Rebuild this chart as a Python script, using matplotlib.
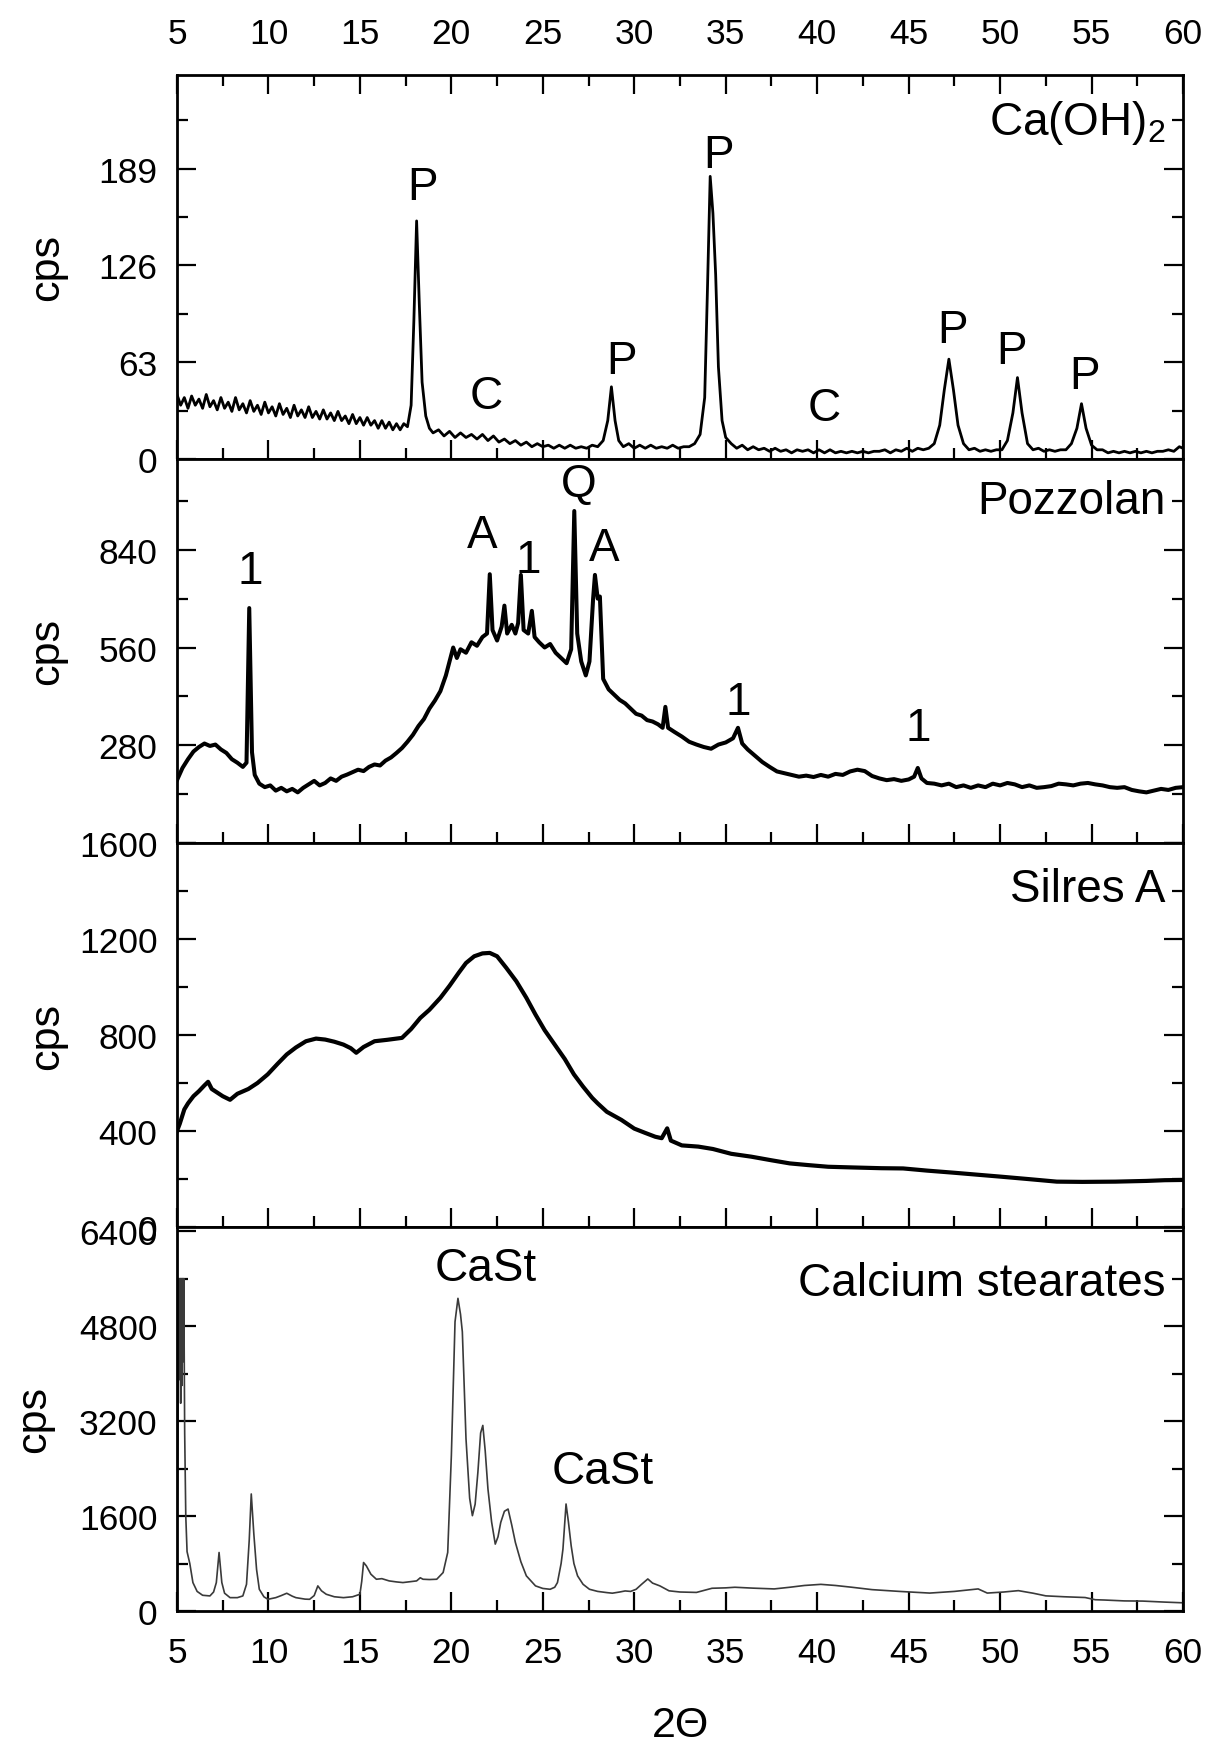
import matplotlib
matplotlib.use("Agg")
import matplotlib.pyplot as plt
from matplotlib.ticker import MultipleLocator, FixedLocator

plt.rcParams['font.family'] = ['Liberation Sans', 'DejaVu Sans']
plt.rcParams['mathtext.fontset'] = 'custom'
plt.rcParams['mathtext.rm'] = 'Liberation Sans'

# ---------------- data ----------------
# Panel 1: Ca(OH)2
caoh_x = [5.0, 5.2, 5.4, 5.6, 5.8, 6.0, 6.2, 6.4, 6.6, 6.8, 7.0, 7.2, 7.4, 7.6, 7.8, 8.0, 8.2, 8.4, 8.6, 8.8,
          9.0, 9.2, 9.4, 9.6, 9.8, 10.0, 10.2, 10.4, 10.6, 10.8, 11.0, 11.2, 11.4, 11.6, 11.8, 12.0, 12.2, 12.4,
          12.6, 12.8, 13.0, 13.2, 13.4, 13.6, 13.8, 14.0, 14.2, 14.4, 14.6, 14.8, 15.0, 15.2, 15.4, 15.6, 15.8,
          16.0, 16.2, 16.4, 16.6, 16.8, 17.0, 17.2, 17.4, 17.6,
          17.8, 17.95, 18.1, 18.25, 18.4, 18.6, 18.8,
          19.0, 19.3, 19.6, 19.9, 20.2, 20.5, 20.8, 21.1, 21.4, 21.7, 22.0, 22.3, 22.6, 22.9, 23.2, 23.5, 23.8,
          24.1, 24.4, 24.7, 25.0, 25.3, 25.6, 25.9, 26.2, 26.5, 26.8, 27.1, 27.4, 27.7, 28.0, 28.3,
          28.55, 28.75, 28.95, 29.15, 29.4, 29.7, 30.0, 30.3, 30.6, 30.9, 31.2, 31.5, 31.8, 32.1, 32.4, 32.7,
          33.0, 33.3, 33.6, 33.85, 34.0, 34.15, 34.3, 34.45, 34.6, 34.8, 35.0, 35.3, 35.6, 35.9, 36.2, 36.5,
          36.8, 37.1, 37.4, 37.7, 38.0, 38.3, 38.6, 38.9, 39.2, 39.5, 39.8, 40.1, 40.4, 40.7, 41.0, 41.3, 41.6,
          41.9, 42.2, 42.5, 42.8, 43.1, 43.4, 43.7, 44.0, 44.3, 44.6, 44.9, 45.2, 45.5, 45.8, 46.1, 46.4,
          46.7, 46.95, 47.2, 47.45, 47.7, 48.0, 48.3, 48.6, 48.9, 49.2, 49.5, 49.8, 50.1, 50.4, 50.7, 50.95,
          51.2, 51.5, 51.8, 52.1, 52.4, 52.7, 53.0, 53.3, 53.6, 53.9, 54.2, 54.45, 54.7, 55.0, 55.3, 55.6,
          55.9, 56.2, 56.5, 56.8, 57.1, 57.4, 57.7, 58.0, 58.3, 58.6, 58.9, 59.2, 59.5, 59.8, 60.0]
caoh_y = [42, 35, 40, 33, 41, 35, 39, 33, 42, 34, 38, 32, 40, 33, 37, 31, 40, 32, 36, 30,
          38, 31, 35, 29, 37, 30, 34, 28, 36, 29, 33, 27, 35, 28, 32, 27, 34, 27,
          31, 26, 32, 26, 30, 25, 31, 25, 28, 23, 29, 23, 27, 22, 27, 22, 25,
          20, 25, 20, 24, 19, 23, 19, 23, 21,
          35, 90, 155, 100, 50, 28, 20,
          17, 19, 15, 18, 14, 17, 14, 16, 13, 16, 12, 15, 11, 13, 10, 12, 9,
          11, 8, 10, 8, 9, 7, 9, 7, 9, 7, 8, 7, 9, 8, 12,
          25, 47, 25, 12, 8, 10, 7, 9, 7, 9, 7, 8, 7, 9, 7, 8,
          8, 10, 16, 40, 110, 184, 160, 120, 60, 25, 14, 10, 7, 9, 6, 8,
          6, 7, 5, 7, 5, 6, 4, 6, 5, 6, 4, 6, 4, 6, 4, 5, 4,
          5, 4, 5, 4, 5, 5, 6, 4, 6, 5, 7, 5, 7, 6, 7, 10,
          22, 45, 65, 45, 22, 10, 6, 7, 5, 6, 5, 6, 6, 12, 30, 53,
          30, 10, 6, 7, 5, 6, 5, 6, 6, 10, 20, 36, 20, 9, 6, 6,
          4, 5, 4, 5, 4, 5, 4, 5, 4, 5, 5, 6, 5, 8, 7]

# Panel 2: Pozzolan
pozz_x = [5.0, 5.3, 5.6, 5.9, 6.2, 6.5, 6.8, 7.1, 7.4, 7.7, 8.0, 8.3, 8.6, 8.8, 8.95, 9.1, 9.25, 9.5, 9.8,
          10.1, 10.4, 10.7, 11.0, 11.3, 11.6, 11.9, 12.2, 12.5, 12.8, 13.1, 13.4, 13.7, 14.0, 14.3, 14.6,
          14.9, 15.2, 15.5, 15.8, 16.1, 16.4, 16.7, 17.0, 17.3, 17.6, 17.9, 18.2, 18.5, 18.8, 19.1, 19.4,
          19.7, 19.9, 20.1, 20.3, 20.5, 20.8, 21.1, 21.4, 21.7, 21.95, 22.1, 22.25, 22.5, 22.75, 22.9, 23.05,
          23.3, 23.5, 23.65, 23.8, 23.95, 24.2, 24.4, 24.55, 24.8, 25.1, 25.4, 25.7, 26.0, 26.3, 26.55,
          26.72, 26.88, 27.1, 27.35, 27.55, 27.75, 27.85, 28.0, 28.12, 28.3, 28.6, 28.9, 29.2, 29.5, 29.8,
          30.1, 30.4, 30.7, 31.0, 31.3, 31.55, 31.7, 31.85, 32.2, 32.6, 33.0, 33.4, 33.8, 34.2, 34.6, 35.0,
          35.4, 35.67, 35.9, 36.2, 36.6, 37.0, 37.4, 37.8, 38.2, 38.6, 39.0, 39.4, 39.8, 40.2, 40.6, 41.0,
          41.4, 41.8, 42.2, 42.6, 43.0, 43.4, 43.8, 44.2, 44.6, 45.0, 45.3, 45.5, 45.7, 46.0, 46.4, 46.8,
          47.2, 47.6, 48.0, 48.4, 48.8, 49.2, 49.6, 50.0, 50.4, 50.8, 51.2, 51.6, 52.0, 52.4, 52.8, 53.2,
          53.6, 54.0, 54.4, 54.8, 55.2, 55.6, 56.0, 56.4, 56.8, 57.2, 57.6, 58.0, 58.4, 58.8, 59.2, 59.6, 60.0]
pozz_y = [180, 215, 240, 262, 275, 285, 278, 282, 268, 258, 240, 230, 218, 230, 673, 260, 195, 170, 160,
          165, 150, 158, 148, 155, 145, 158, 168, 178, 165, 172, 185, 178, 190, 196, 203,
          210, 206, 218, 225, 222, 236, 245, 258, 272, 290, 310, 335, 355, 385, 408, 435,
          480, 520, 560, 530, 555, 545, 575, 565, 590, 600, 770, 610, 580, 620, 680, 600,
          625, 600, 630, 768, 610, 600, 665, 590, 575, 560, 570, 545, 530, 515, 555,
          951, 600, 520, 480, 520, 700, 768, 700, 706, 470, 440, 425, 410, 400, 385,
          370, 365, 352, 348, 340, 330, 390, 330, 318, 305, 290, 282, 275, 270, 282, 288,
          300, 330, 285, 268, 250, 232, 218, 205, 200, 195, 190, 193, 189, 195, 190, 198,
          195, 205, 210, 206, 192, 185, 180, 183, 178, 182, 190, 215, 185, 172, 170, 165,
          170, 160, 165, 158, 165, 160, 170, 165, 172, 168, 160, 165, 158, 160, 163, 170,
          168, 165, 170, 172, 168, 165, 160, 158, 160, 152, 148, 145, 150, 155, 152, 158, 160]

# Panel 3: Silres A
silres_x = [5.0, 5.15, 5.4, 5.6, 5.9, 6.2, 6.5, 6.7, 6.9, 7.2, 7.5, 7.9, 8.3, 8.9, 9.4, 9.96, 10.5, 11.0,
            11.5, 12.05, 12.6, 13.1, 13.6, 14.1, 14.5, 14.8, 15.2, 15.8, 16.5, 17.3, 17.8, 18.3, 18.8, 19.4,
            19.9, 20.4, 20.8, 21.25, 21.7, 22.1, 22.5, 23.0, 23.55, 24.1, 24.6, 25.1, 25.65, 26.2, 26.7,
            27.2, 27.7, 28.0, 28.5, 29.3, 30.0, 30.6, 31.15, 31.5, 31.8, 32.0, 32.6, 33.5, 34.3, 35.3, 36.4,
            37.5, 38.5, 39.5, 40.6, 42.0, 43.5, 44.7, 46.0, 47.5, 48.9, 50.0, 51.5, 53.1, 54.5, 56.3, 58.0,
            59.0, 60.0]
silres_y = [400, 430, 490, 515, 545, 566, 590, 605, 575, 560, 545, 530, 555, 575, 600, 636, 680, 719,
            748, 774, 785, 781, 772, 760, 745, 726, 750, 774, 780, 788, 825, 871, 905, 955,
            1005, 1059, 1100, 1128, 1140, 1142, 1128, 1080, 1024, 955, 885, 820, 760, 700, 636,
            585, 538, 515, 480, 446, 410, 392, 376, 370, 411, 360, 340, 335, 325, 305, 293,
            278, 265, 258, 251, 248, 245, 244, 235, 226, 217, 210, 200, 189, 188, 189, 192,
            195, 196]

# Panel 4: Calcium stearates
cast_x = [5.0, 5.05, 5.1, 5.13, 5.17, 5.2, 5.23, 5.27, 5.3, 5.33, 5.37, 5.42, 5.48, 5.55, 5.7, 5.87, 6.1,
          6.4, 6.8, 7.0, 7.15, 7.3,
          7.45, 7.6, 7.9, 8.3, 8.6, 8.8, 8.95, 9.06, 9.2, 9.35, 9.5, 9.75, 9.97, 10.4, 10.7, 11.0, 11.3,
          11.5, 12.0, 12.25, 12.5, 12.7, 12.9, 13.16, 13.6, 14.1, 14.6, 15.0, 15.1, 15.2, 15.35, 15.6,
          15.9, 16.2, 16.6, 17.0, 17.35, 17.8, 18.1, 18.3, 18.45, 18.8, 19.2, 19.55, 19.8, 20.0, 20.2,
          20.36, 20.5, 20.6, 20.8, 21.0, 21.15, 21.3, 21.45, 21.6, 21.72, 21.85, 22.0, 22.2, 22.4, 22.55,
          22.7, 22.9, 23.1, 23.3, 23.5, 23.8, 24.1, 24.6, 25.0, 25.4, 25.65, 25.8, 26.0, 26.1, 26.27, 26.4,
          26.55, 26.7, 26.9, 27.2, 27.55, 28.0, 28.5, 28.8, 29.2, 29.5, 29.8, 30.1, 30.4, 30.74, 31.0,
          31.4, 31.9, 32.5, 33.4, 34.25, 35.0, 35.5, 36.5, 37.65, 38.5, 39.3, 40.2, 41.0, 41.9, 43.0,
          44.5, 46.15, 47.5, 48.8, 49.3, 50.2, 51.0, 51.8, 52.5, 53.5, 54.65, 55.2, 55.7, 56.8, 57.8,
          59.0, 60.0]
cast_y = [1200, 3000, 5600, 3900, 5600, 3500, 5600, 3800, 5600, 4200, 5600, 3000, 1600, 1000, 800, 479, 330,
          265, 254, 320, 479, 986,
          480, 300, 225, 225, 254, 450, 1200, 1972, 1300, 700, 366, 240, 197, 225, 260, 299, 250,
          225, 200, 197, 260, 423, 340, 282, 240, 225, 240, 282, 500, 817, 761, 620,
          535, 545, 507, 490, 479, 495, 507, 560, 535, 530, 535, 648, 986, 2620, 4873,
          5268, 5000, 4704, 2902, 1900, 1606, 1800, 2338, 3000, 3127, 2700, 2056, 1500, 1127, 1250,
          1493, 1680, 1718, 1450, 1155, 830, 592, 423, 380, 366, 400, 479, 800, 1042, 1803, 1500,
          1099, 800, 592, 450, 366, 330, 310, 300, 320, 338, 330, 366, 450, 540, 470,
          423, 340, 320, 313, 383, 390, 400, 385, 372, 400, 430, 449, 430, 400, 360,
          330, 302, 330, 372, 302, 320, 343, 300, 255, 240, 227, 190, 185, 170, 167,
          150, 138]

sample_names = ["Ca(OH)$_\\mathregular{2}$", "Pozzolan", "Silres A", "Calcium stearates"]

caoh_labels = [("P", 18.4, 177), ("C", 21.9, 41), ("P", 29.3, 64), ("P", 34.6, 198),
               ("C", 40.4, 33), ("P", 47.4, 84), ("P", 50.6, 70), ("P", 54.6, 54)]
pozz_labels = [("1", 9.0, 779), ("A", 21.7, 883), ("1", 24.2, 812), ("Q", 26.95, 1027),
               ("A", 28.35, 845), ("1", 35.7, 405), ("1", 45.5, 328)]
cast_labels = [("CaSt", 21.9, 5775), ("CaSt", 28.3, 2366)]

ylims = [(0, 250), (0, 1100), (0, 1600), (0, 6470)]
y_major = [[0, 63, 126, 189], [0, 280, 560, 840], [0, 400, 800, 1200, 1600], [0, 1600, 3200, 4800, 6400]]
y_major_labels = [["0", "63", "126", "189"], ["", "280", "560", "840"],
                  ["0", "400", "800", "1200", "1600"], ["0", "1600", "3200", "4800", "6400"]]
y_minor_step = [31.5, 140, 200, 800]
x_major = [5, 10, 15, 20, 25, 30, 35, 40, 45, 50, 55, 60]

# ---------------- figure ----------------
W, H = 1210, 1749
fig = plt.figure(figsize=(W / 100, H / 100), dpi=100)
left_px, right_px = 177, 1183
tops = [76, 460, 844, 1228]
ph = 384

series = [(caoh_x, caoh_y), (pozz_x, pozz_y), (silres_x, silres_y), (cast_x, cast_y)]
label_sets = [caoh_labels, pozz_labels, [], cast_labels]
name_pos = [0.878, 0.89, 0.88, 0.855]
lws = [2.0, 2.9, 3.0, 1.2]
lcolors = ['black', 'black', 'black', '#3a3a3a']
ylabel_x = [-0.109, -0.109, -0.109, -0.122]

TICK_FS = 25.5
axes = []
for i in range(4):
    ax = fig.add_axes([left_px / W, 1 - (tops[i] + ph) / H, (right_px - left_px) / W, ph / H])
    axes.append(ax)
    xs, ys = series[i]
    ax.plot(xs, ys, color=lcolors[i], lw=lws[i])
    ax.set_xlim(5, 60)
    ax.set_ylim(*ylims[i])
    for sp in ax.spines.values():
        sp.set_linewidth(2.0)
    ax.xaxis.set_major_locator(FixedLocator(x_major))
    ax.xaxis.set_minor_locator(MultipleLocator(2.5))
    ax.yaxis.set_major_locator(FixedLocator(y_major[i]))
    ax.set_yticklabels(y_major_labels[i])
    ax.yaxis.set_minor_locator(MultipleLocator(y_minor_step[i]))
    ax.tick_params(which='both', direction='in', width=1.6, left=True, right=True,
                   bottom=True, top=(i == 0), labelsize=TICK_FS,
                   labelbottom=(i == 3), labeltop=(i == 0), labelleft=True, labelright=False)
    ax.tick_params(which='major', length=14)
    ax.tick_params(which='minor', length=8)
    ax.tick_params(axis='y', pad=14)
    ax.tick_params(axis='x', pad=18)
    ax.set_ylabel("cps", fontsize=31)
    ax.yaxis.set_label_coords(ylabel_x[i], 0.5)
    for t, lx, ly in label_sets[i]:
        ax.text(lx, ly, t, fontsize=33, ha='center', va='center')
    ax.text(0.983, name_pos[i], sample_names[i], transform=ax.transAxes,
            fontsize=33, ha='right', va='center')

axes[3].set_xlabel("2\u0398", fontsize=31)
axes[3].xaxis.set_label_coords(0.5, -0.297)
axes[3].xaxis.label.set_va('center')

fig.savefig("out.png", dpi=100)
